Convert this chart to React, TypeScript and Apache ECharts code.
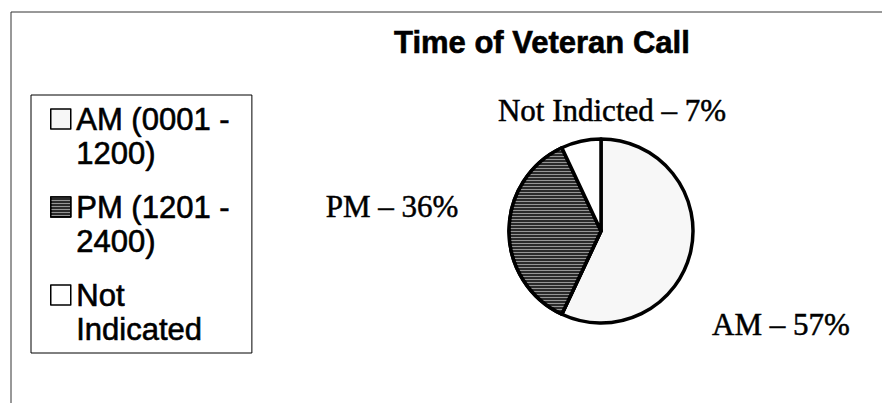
import React, { useEffect, useRef } from "react";
import * as echarts from "echarts";

const titleText = "Time of Veteran Call";
const categories = ["AM (0001 - 1200)", "PM (1201 - 2400)", "Not Indicated"];
const legendText = ["AM (0001 -\n1200)", "PM (1201 -\n2400)", "Not\nIndicated"];
const labelNames = ["AM", "PM", "Not Indicted"];
const values = [57, 36, 7];

const sliceColors = ["#f7f7f7", "#2a2a2a", "#ffffff"];
const labelPos: [number, number][] = [
  [781, 324],
  [392, 206],
  [612, 110],
];

export default function App() {
  const ref = useRef<HTMLDivElement>(null);
  useEffect(() => {
    if (!ref.current) return;
    const chart = echarts.init(ref.current, null, { renderer: "svg" });
    const option: any = {
      animation: false,
      backgroundColor: "#ffffff",
      title: {
        text: titleText,
        left: 394,
        top: 27,
        padding: 0,
        textStyle: {
          fontFamily: "Liberation Sans",
          fontWeight: "bold",
          fontSize: 31,
          color: "#000",
          textBorderColor: "#000",
          textBorderWidth: 0.6,
        },
      },
      legend: {
        orient: "vertical",
        left: 31,
        top: 95,
        padding: [7, 22, 7, 19],
        itemGap: 20,
        itemWidth: 21,
        itemHeight: 54,
        icon: "path://M0,0H20V20H0Z M0,54",
        selectedMode: false,
        borderColor: "#000",
        borderWidth: 1,
        data: categories,
        formatter: (name: string) => legendText[categories.indexOf(name)],
        itemStyle: { borderColor: "#000", borderWidth: 1.5 },
        textStyle: {
          fontFamily: "Liberation Sans",
          fontSize: 31,
          lineHeight: 34,
          color: "#000",
          textBorderColor: "#000",
          textBorderWidth: 0.6,
        },
      },
      graphic: [
        {
          type: "line",
          shape: { x1: 11, y1: 12, x2: 882, y2: 12 },
          style: { stroke: "#333", lineWidth: 1 },
        },
        {
          type: "line",
          shape: { x1: 11, y1: 12, x2: 11, y2: 403 },
          style: { stroke: "#333", lineWidth: 1 },
        },
      ],
      series: [
        {
          type: "pie",
          center: [601, 231],
          radius: 92,
          startAngle: 90,
          clockwise: true,
          avoidLabelOverlap: false,
          itemStyle: { borderColor: "#000", borderWidth: 3.5 },
          emphasis: { disabled: true },
          label: {
            show: true,
            position: "outside",
            fontFamily: "Liberation Serif",
            fontSize: 31,
            color: "#000",
            textBorderColor: "#000",
            textBorderWidth: 0.5,
            formatter: (p: any) => `${labelNames[p.dataIndex]} – ${p.value}%`,
          },
          labelLine: { show: false },
          labelLayout: (p: any) => ({
            x: labelPos[p.dataIndex][0],
            y: labelPos[p.dataIndex][1],
            align: "center",
            verticalAlign: "middle",
          }),
          data: categories.map((name, i) => ({
            name,
            value: values[i],
            itemStyle:
              i === 1
                ? {
                    color: sliceColors[i],
                    decal: {
                      symbol: "rect",
                      symbolSize: 1,
                      color: "rgba(255,255,255,0.5)",
                      dashArrayX: [1, 0],
                      dashArrayY: [1, 2],
                      rotation: 0,
                    },
                  }
                : { color: sliceColors[i] },
          })),
        },
      ],
    };
    chart.setOption(option);
    return () => chart.dispose();
  }, []);
  return (
    <div
      ref={ref}
      style={{ position: "absolute", left: 0, top: 0, width: 882, height: 403 }}
    />
  );
}
